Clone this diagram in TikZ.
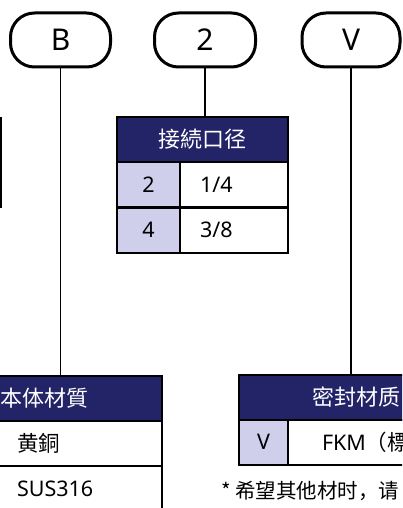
\documentclass[tikz,border=0pt]{standalone}
\usepackage{fontspec}
\setmainfont{Noto Sans CJK SC}
\newfontfamily\latinfont{Noto Sans}
\usepackage{tikz}
\usetikzlibrary{positioning}
\definecolor{Hdr-Navy}{RGB}{35,35,104}
\definecolor{Code-Lilac}{RGB}{207,207,236}

\tikzset{
  pill/.style={draw=black, line width=3pt, rounded corners=24pt, minimum height=54pt, inner sep=0pt, font=\latinfont\fontsize{30}{32}\selectfont},
  hdrcell/.style={draw=black, fill=Hdr-Navy, line width=2pt, text=white, minimum height=45pt, inner sep=0pt, font=\fontsize{22}{24}\selectfont},
  codecell/.style={draw=black, fill=Code-Lilac, line width=2pt, minimum height=45pt, inner sep=0pt, font=\latinfont\fontsize{21.5}{23}\selectfont},
  valcell/.style={draw=black, fill=white, line width=2pt, minimum height=45pt, inner ysep=0pt, align=left, font=\fontsize{21.5}{23}\selectfont},
  leader/.style={draw=black, line width=1.5pt},
}

\begin{document}
\begin{tikzpicture}[x=1pt, y=-1pt]
  \useasboundingbox (0,0) rectangle (402,508);
  \clip (0,0) rectangle (402,508);

  % code pills
  \node[pill, minimum width=100pt] (pB) at ( 60.5, 40) {B};
  \node[pill, minimum width=101pt] (p2) at (205.0, 40) {2};
  \node[pill, minimum width= 98pt] (pV) at (351.0, 40) {V};

  % table: connection size
  \node[hdrcell,  minimum width=171pt                               ] (h2)  at (202.5, 139.5) {接続口径};
  \node[codecell, minimum width= 63pt                               ] (c2a) at (148.5, 184.5) {2};
  \node[valcell,  text width= 68pt, inner xsep=20pt                 ] (v2a) at (234.0, 184.5) {\latinfont 1/4};
  \node[codecell, minimum width= 63pt                               ] (c2b) at (148.5, 230.0) {4};
  \node[valcell,  text width= 68pt, inner xsep=20pt                 ] (v2b) at (234.0, 230.0) {\latinfont 3/8};

  % table: body material
  \node[hdrcell,  minimum width=236pt                               ] (hB)  at ( 44.0, 398.5) {本体材質};
  \node[valcell,  text width=113pt, inner xsep=32pt                 ] (vBa) at ( 73.5, 443.5) {黄銅};
  \node[valcell,  text width=113pt, inner xsep=32pt                 ] (vBb) at ( 73.5, 488.5) {\latinfont SUS316};

  % table: seal material
  \node[hdrcell,  minimum width=234pt                               ] (hV)  at (356.0, 397.5) {密封材质};
  \node[codecell, minimum width= 49pt                               ] (cVa) at (263.5, 442.0) {V};
  \node[valcell,  text width=117pt, inner xsep=34pt                 ] (vVa) at (380.5, 442.0) {{\latinfont FKM}（標};

  \node[anchor=west, inner sep=0pt, font=\fontsize{20.5}{22}\selectfont] (note) at (221, 491) {* 希望其他材时，请};

  % edge of the table to the left
  \draw[line width=2pt] (0.8,117) -- (0.8,208);

  \draw[leader] (pB.south) -- (pB.south |- hB.north);
  \draw[leader] (p2.south) -- (p2.south |- h2.north);
  \draw[leader] (pV.south) -- (pV.south |- hV.north);
\end{tikzpicture}
\end{document}
